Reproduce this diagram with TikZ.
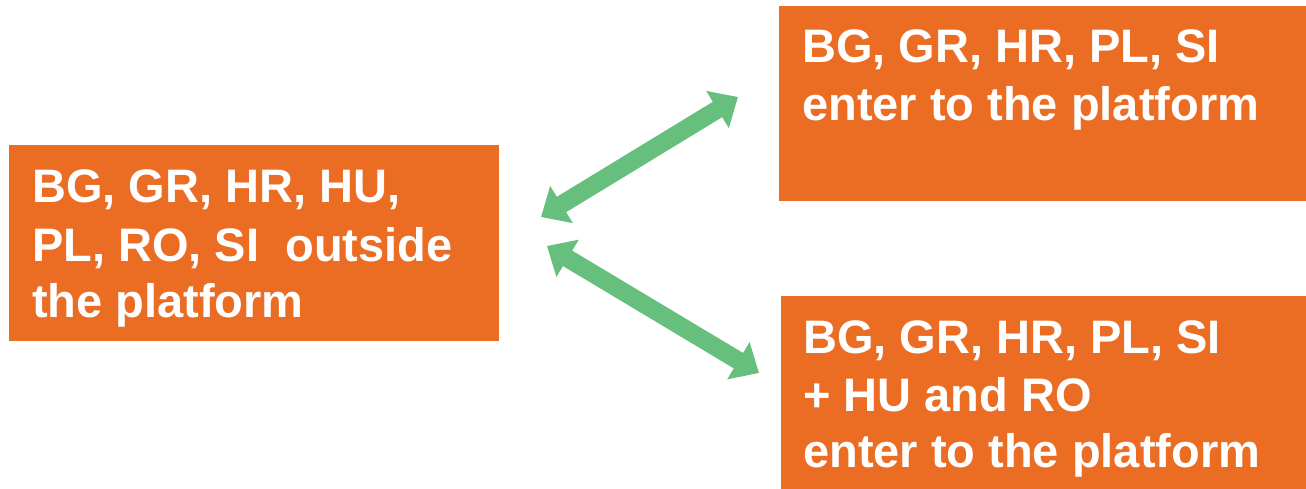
\documentclass[tikz,border=0pt]{standalone}
\usepackage{fontspec}
\setmainfont{Liberation Sans}
\usetikzlibrary{arrows.meta}
\definecolor{boxorange}{HTML}{EB6D24}
\definecolor{arrowgreen}{HTML}{66BF7D}
\tikzset{
  panel/.style={fill=boxorange, draw=none, inner sep=0pt, anchor=north west},
  txt/.style={text=white, font=\fontsize{47}{57}\selectfont\bfseries, anchor=base west, inner sep=0pt},
  link/.style={draw=arrowgreen, line width=18pt,
    {Triangle[width=42pt,length=24pt]}-{Triangle[width=42pt,length=24pt]}}
}
\begin{document}
\begin{tikzpicture}[x=1pt, y=-1pt]
  \useasboundingbox (0,0) rectangle (1306,489);

  % boxes
  \node[panel, minimum width=490pt, minimum height=196pt] (out) at (9,145) {};
  \node[panel, minimum width=527pt, minimum height=195pt] (enter) at (779,6) {};
  \node[panel, minimum width=525pt, minimum height=193pt] (enterall) at (781,296) {};

  % texts
  \node[txt] (o1) at (32,203) {BG, GR, HR, HU,};
  \node[txt] (o2) at (32,261) {PL, RO, SI\ \ outside};
  \node[txt] (o3) at (32,317) {the platform};

  \node[txt] (e1) at (802,63) {BG, GR, HR, PL, SI};
  \node[txt] (e2) at (802,121) {enter to the platform};

  \node[txt] (a1) at (803,353) {BG, GR, HR, PL, SI};
  \node[txt] (a2) at (803,411) {+ HU and RO};
  \node[txt] (a3) at (803,467) {enter to the platform};

  % arrow end points
  \coordinate (p1) at (541,217);
  \coordinate (q1) at (738,97);
  \coordinate (p2) at (547,246);
  \coordinate (q2) at (759,373);

  \draw[link] (p1) -- (q1);
  \draw[link] (p2) -- (q2);
\end{tikzpicture}
\end{document}
